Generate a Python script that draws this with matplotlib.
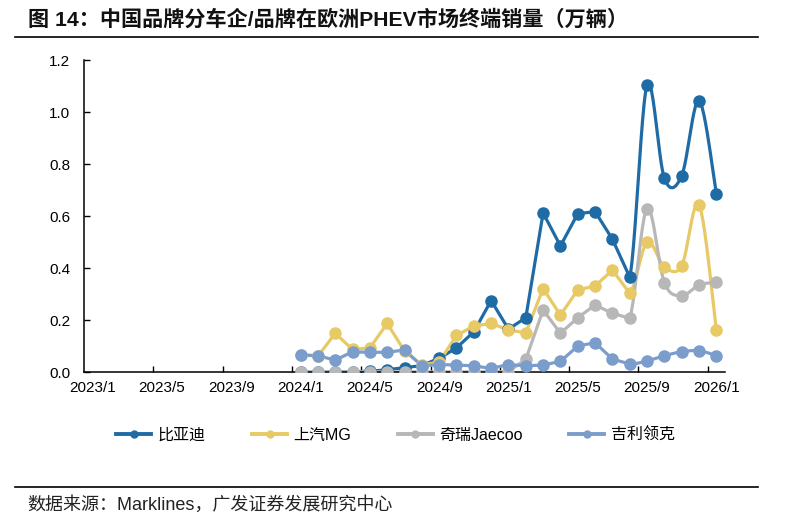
import numpy as np
import matplotlib.pyplot as plt
from matplotlib.lines import Line2D

plt.rcParams['font.family'] = ['Liberation Sans', 'Noto Sans CJK SC', 'DejaVu Sans']

# category axis: 2023/1 .. 2026/1, data starts at 2024/1
n_months = 37
tick_labels = ["2023/1", "2023/5", "2023/9", "2024/1", "2024/5",
               "2024/9", "2025/1", "2025/5", "2025/9", "2026/1"]
first_data = 12  # 2024/1

names = ["比亚迪", "上汽MG", "奇瑞Jaecoo", "吉利领克"]
byd = [0.000, 0.000, 0.001, 0.002, 0.004, 0.010, 0.018, 0.026, 0.054, 0.094,
       0.156, 0.276, 0.166, 0.210, 0.613, 0.486, 0.610, 0.618, 0.512, 0.366,
       1.105, 0.746, 0.756, 1.045, 0.686]
mg = [0.068, 0.062, 0.150, 0.088, 0.094, 0.188, 0.082, 0.028, 0.040, 0.142,
      0.178, 0.188, 0.163, 0.152, 0.322, 0.220, 0.317, 0.332, 0.393, 0.304,
      0.500, 0.406, 0.410, 0.645, 0.163]
chery = [0.002, 0.002, 0.002, 0.002, 0.002, 0.002, 0.002, 0.002, 0.002, 0.002,
         0.002, 0.002, 0.003, 0.050, 0.240, 0.150, 0.210, 0.259, 0.227, 0.208,
         0.630, 0.345, 0.295, 0.336, 0.346]
geely = [0.067, 0.064, 0.047, 0.079, 0.077, 0.077, 0.086, 0.025, 0.030, 0.028,
         0.025, 0.015, 0.030, 0.025, 0.028, 0.042, 0.101, 0.114, 0.051, 0.032,
         0.044, 0.064, 0.079, 0.083, 0.064]
colors = ["#1F6BA5", "#E7C965", "#B7B7B7", "#7B9DCC"]


def smooth_tail(x, y, start):
    # straight segments first, Excel-like (Catmull-Rom) smoothing from `start`
    x = np.asarray(x, float)
    y = np.asarray(y, float)
    n = len(x)
    px, py = [x[0]], [y[0]]
    t = np.linspace(0, 1, 24)[1:]
    for i in range(1, n):
        if i - 1 < start:
            px.append(x[i]); py.append(y[i])
            continue
        a, b = i - 2 if i >= 2 else 0, min(i + 1, n - 1)
        p0 = np.array([x[i - 1], y[i - 1]])
        p3 = np.array([x[i], y[i]])
        p1 = p0 + (p3 - np.array([x[a], y[a]])) / 6
        p2 = p3 - (np.array([x[b], y[b]]) - p0) / 6
        for tt in t:
            pt = ((1 - tt) ** 3 * p0 + 3 * (1 - tt) ** 2 * tt * p1
                  + 3 * (1 - tt) * tt ** 2 * p2 + tt ** 3 * p3)
            px.append(pt[0]); py.append(pt[1])
    return px, py


fig = plt.figure(figsize=(7.91, 5.23), dpi=100)
ax = fig.add_axes([0.1062, 0.2881, 0.8104, 0.5966])

x = np.arange(first_data, first_data + len(byd))
for vals, c in zip([byd, mg, chery, geely], colors):
    sx, sy = smooth_tail(x, vals, 19)
    ax.plot(sx, sy, color=c, lw=2.3, solid_capstyle='round', zorder=2)
    ax.plot(x, vals, 'o', color=c, ms=8, zorder=3)

ax.set_xlim(-0.5, n_months - 0.5)
ax.set_ylim(0, 1.2)
ax.set_yticks(np.arange(0, 1.21, 0.2))
ax.set_yticklabels([f"{v:.1f}" for v in np.arange(0, 1.21, 0.2)])
ax.set_xticks(np.arange(0, n_months, 4))
ax.set_xticklabels(tick_labels)
ax.set_xticks(np.arange(3.5, n_months - 1, 4), minor=True)
ax.tick_params(axis='x', which='major', length=0, pad=6, labelsize=11)
ax.tick_params(axis='x', which='minor', direction='in', length=4, width=1)
ax.tick_params(axis='y', direction='in', length=4, width=1, pad=10, labelsize=11)
for s in ['top', 'right']:
    ax.spines[s].set_visible(False)
for s in ['left', 'bottom']:
    ax.spines[s].set_linewidth(1.1)

handles = [Line2D([], [], color=c, lw=2.8, marker='o', ms=5) for c in colors]
fig.legend(handles, names, loc='center', bbox_to_anchor=(0.5, 0.168), ncol=4,
           frameon=False, fontsize=11.5, handlelength=2.2, handletextpad=0.4,
           columnspacing=2.9)

fig.text(0.035, 0.962, "图 14：中国品牌分车企/品牌在欧洲PHEV市场终端销量（万辆）",
         fontsize=15.2, fontweight='bold', va='center', ha='left', color='#111111')
fig.add_artist(Line2D([0.019, 0.958], [0.929, 0.929], color='black', lw=1.2))
fig.add_artist(Line2D([0.019, 0.958], [0.069, 0.069], color='black', lw=1.2))
fig.text(0.034, 0.034, "数据来源：Marklines，广发证券发展研究中心", fontsize=13,
         va='center', ha='left', color='#222222')

fig.savefig("out.png", dpi=100)
